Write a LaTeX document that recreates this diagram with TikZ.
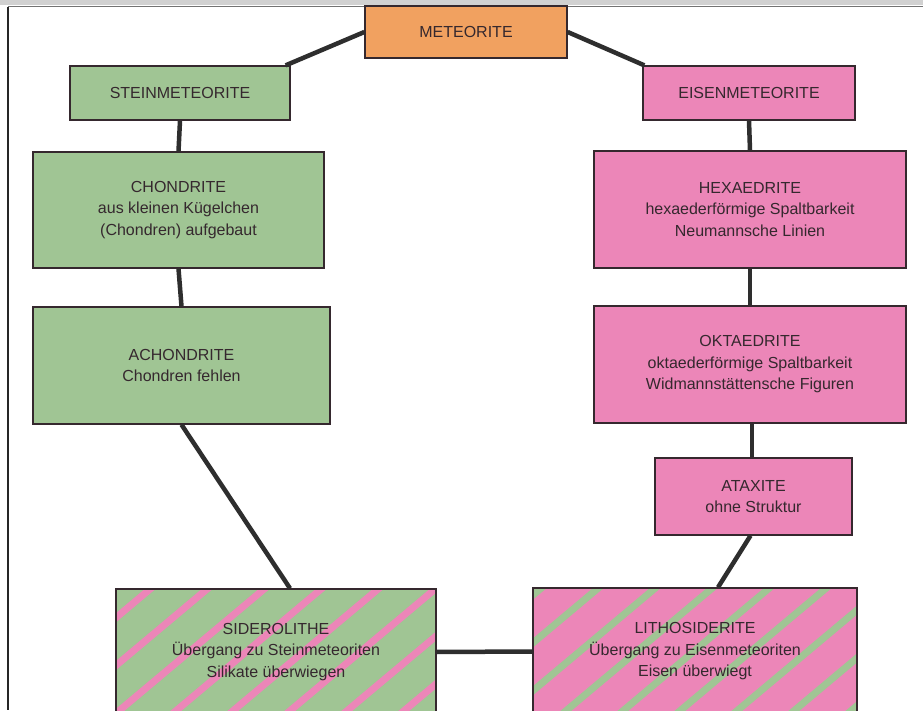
\documentclass[tikz,border=0pt]{standalone}
\usepackage{fontspec}
\setmainfont{Liberation Sans}
\usetikzlibrary{calc}

\definecolor{stonegreen}{HTML}{A0C594}
\definecolor{ironpink}{HTML}{EC86B8}
\definecolor{rootorange}{HTML}{F1A160}
\definecolor{inkdark}{HTML}{35282E}
\definecolor{linkgray}{HTML}{2E2E2E}

\tikzset{
  box/.style={draw=inkdark, line width=1.3pt, text=inkdark, align=center,
    inner sep=0pt, font=\fontsize{16}{21.5}\selectfont},
  stone/.style={box, fill=stonegreen},
  iron/.style={box, fill=ironpink},
  link/.style={draw=linkgray, line width=4.5pt},
  stripes/.style 2 args={path picture={
    \foreach \k in {-3,...,7}
      \draw[#1, line width=7pt]
        ([xshift={#2+\k*57}]path picture bounding box.south west) -- ++(40:330);
  }}
}

\begin{document}
\begin{tikzpicture}[x=1pt, y=1pt]
  \useasboundingbox (0,0) rectangle (923,710);
  \fill[white] (0,0) rectangle (923,710);

  % page edge
  \fill[black!18] (0,705) rectangle (923,710);
  \draw[black!55, line width=1pt] (8,703) -- (923,703);
  \draw[black!85, line width=1.3pt] (8,703) -- (8,0);

  % boxes
  \node[box, fill=rootorange, minimum width=202, minimum height=52] (meteorite) at (466,678) {METEORITE};
  \node[stone, minimum width=220, minimum height=54] (stein) at (180,617) {STEINMETEORITE};
  \node[iron, minimum width=212, minimum height=54] (eisen) at (749,617) {EISENMETEORITE};
  \node[stone, minimum width=291, minimum height=116] (chondrite) at (178.5,500)
    {CHONDRITE\\aus kleinen Kügelchen\\(Chondren) aufgebaut};
  \node[iron, minimum width=312, minimum height=117] (hexaedrite) at (750,500.5)
    {HEXAEDRITE\\hexaederförmige Spaltbarkeit\\Neumannsche Linien};
  \node[stone, minimum width=297, minimum height=117] (achondrite) at (181.5,344.5)
    {ACHONDRITE\\Chondren fehlen};
  \node[iron, minimum width=312, minimum height=117] (oktaedrite) at (750,345.5)
    {OKTAEDRITE\\oktaederförmige Spaltbarkeit\\Widmannstättensche Figuren};
  \node[iron, minimum width=197, minimum height=77] (ataxite) at (753.5,213.5)
    {ATAXITE\\ohne Struktur};
  \node[stone, stripes={ironpink}{-2}, minimum width=320, minimum height=126] (siderolithe) at (276,58)
    {SIDEROLITHE\\Übergang zu Steinmeteoriten\\Silikate überwiegen};
  \node[iron, stripes={stonegreen}{28}, minimum width=324, minimum height=127] (lithosiderite) at (695,58.5)
    {LITHOSIDERITE\\Übergang zu Eisenmeteoriten\\Eisen überwiegt};

  % connectors
  \draw[link] (meteorite.west) -- ($(stein.north east)+(-5,0)$);
  \draw[link] (meteorite.east) -- ($(eisen.north west)+(2,0)$);
  \draw[link] (stein.south) -- (chondrite.north);
  \draw[link] (chondrite.south) -- (achondrite.north);
  \draw[link] (achondrite.south) -- ($(siderolithe.north)+(14,0)$);
  \draw[link] (eisen.south) -- (hexaedrite.north);
  \draw[link] (hexaedrite.south) -- (oktaedrite.north);
  \draw[link] ($(oktaedrite.south)+(2,0)$) -- ($(ataxite.north)+(-1.5,0)$);
  \draw[link] ($(ataxite.south)+(-3,0)$) -- ($(lithosiderite.north)+(23,0)$);
  \draw[link] (siderolithe.east) -- (lithosiderite.west);
\end{tikzpicture}
\end{document}
